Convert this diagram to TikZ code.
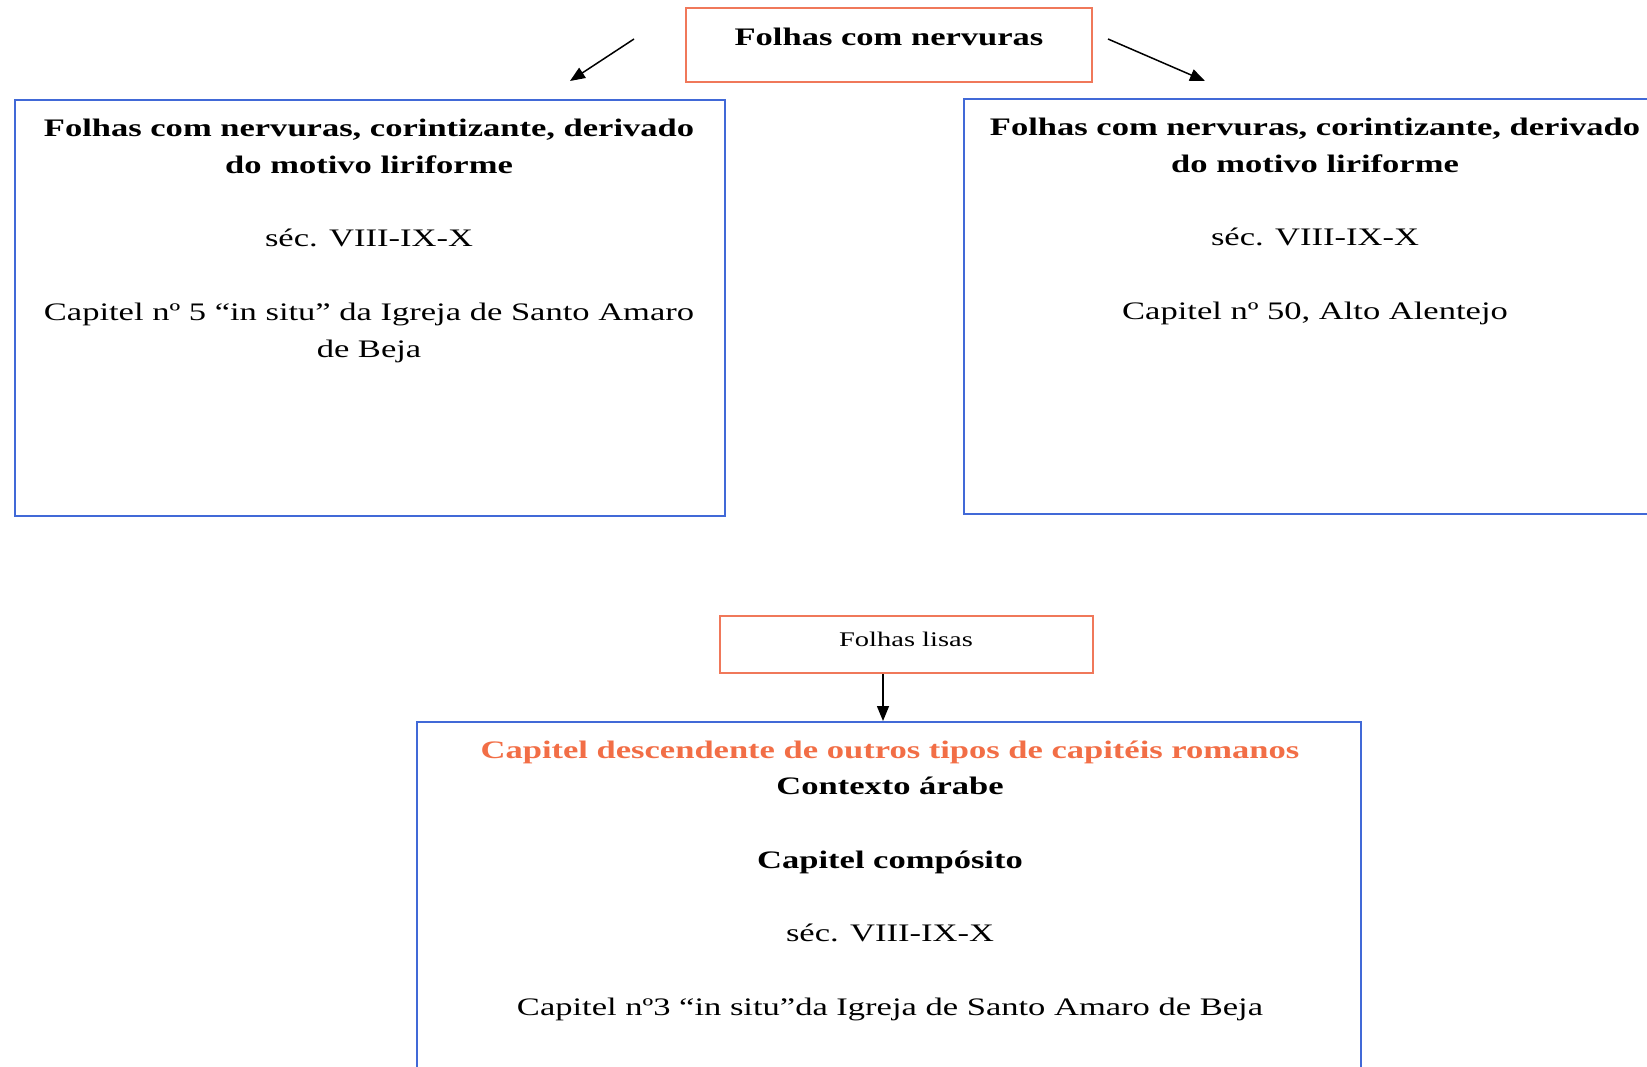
\documentclass[tikz,border=0pt]{standalone}
\usepackage{fontspec}
\setmainfont{Liberation Serif}[FakeStretch=1.37]
\usetikzlibrary{arrows.meta}
\definecolor{boxblue}{RGB}{65,105,215}
\definecolor{boxorange}{RGB}{240,120,90}
\definecolor{txtorange}{RGB}{242,110,70}
\begin{document}
\begin{tikzpicture}[x=1pt,y=-1pt,
  bluebox/.style={draw=boxblue, line width=2pt, inner sep=0pt},
  redbox/.style={draw=boxorange, line width=2pt, inner sep=0pt},
  bt/.style={font=\fontsize{25.2}{30}\selectfont\bfseries, anchor=base, inner sep=0pt},
  rt/.style={font=\fontsize{25.2}{30}\selectfont, anchor=base, inner sep=0pt},
  st/.style={font=\fontsize{20.8}{24}\selectfont, anchor=base, inner sep=0pt},
  conn/.style={-{Triangle[length=15pt,width=12pt]}, line width=1.5pt, black}]
\clip (0,0) rectangle (1647,1066);
\fill[white] (0,0) rectangle (1647,1066);
% boxes
\node[redbox, minimum width=406pt, minimum height=74pt] (T) at (889,45) {};
\node[bluebox, minimum width=710pt, minimum height=416pt] (L) at (370,308) {};
\node[bluebox, minimum width=698pt, minimum height=415pt] (R) at (1313,306.5) {};
\node[redbox, minimum width=373pt, minimum height=57pt] (Li) at (906.5,644.5) {};
\node[bluebox, minimum width=944pt, minimum height=346pt] (B) at (889,895) {};
% texts
\node[bt] (t0) at (889,45) {Folhas com nervuras};
\node[bt] (l1) at (369,136) {Folhas com nervuras, corintizante, derivado};
\node[bt] (l2) at (369,173) {do motivo liriforme};
\node[rt] (l3) at (369,246) {séc. VIII-IX-X};
\node[rt] (l4) at (369,320) {Capitel nº 5 “in situ” da Igreja de Santo Amaro};
\node[rt] (l5) at (369,357) {de Beja};
\node[bt] (r1) at (1315,135) {Folhas com nervuras, corintizante, derivado};
\node[bt] (r2) at (1315,172) {do motivo liriforme};
\node[rt] (r3) at (1315,245) {séc. VIII-IX-X};
\node[rt] (r4) at (1315,319) {Capitel nº 50, Alto Alentejo};
\node[st] (s1) at (906,646) {Folhas lisas};
\node[bt, text=txtorange] (b1) at (890,758) {Capitel descendente de outros tipos de capitéis romanos};
\node[bt] (b2) at (890,794) {Contexto árabe};
\node[bt] (b3) at (890,868) {Capitel compósito};
\node[rt] (b4) at (890,941) {séc. VIII-IX-X};
\node[rt] (b5) at (890,1015) {Capitel nº3 “in situ”da Igreja de Santo Amaro de Beja};
% connectors
\coordinate (a1s) at (634,39);
\coordinate (a1e) at (570,81);
\coordinate (a2s) at (1108,39);
\coordinate (a2e) at (1205,81);
\coordinate (ax) at (883,0);
\draw[conn] (a1s) -- (a1e);
\draw[conn] (a2s) -- (a2e);
\draw[conn] (Li.south -| ax) -- (B.north -| ax);
\end{tikzpicture}
\end{document}
